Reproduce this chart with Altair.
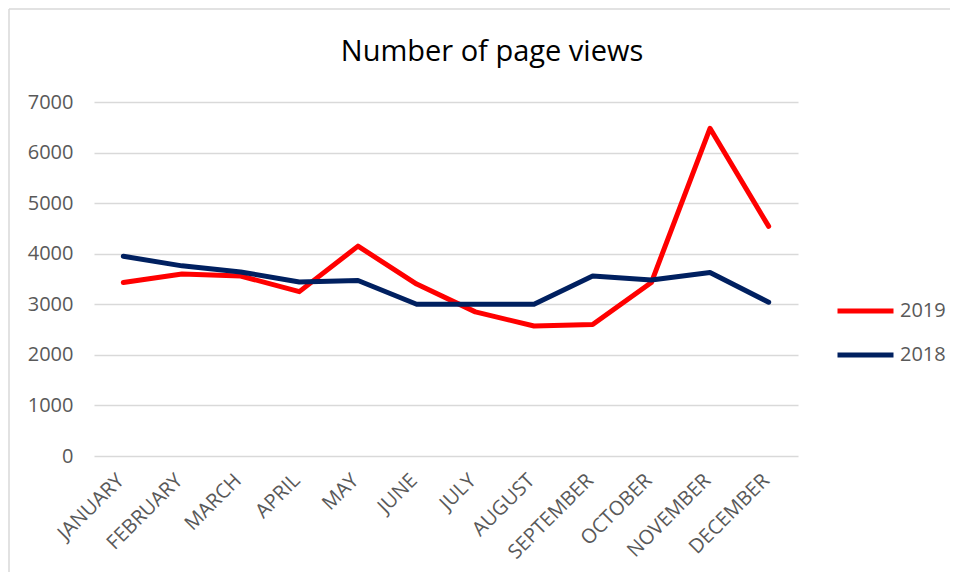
import altair as alt
import pandas as pd

months = ["JANUARY", "FEBRUARY", "MARCH", "APRIL", "MAY", "JUNE", "JULY",
          "AUGUST", "SEPTEMBER", "OCTOBER", "NOVEMBER", "DECEMBER"]
views_2019 = [3430, 3600, 3560, 3250, 4150, 3400, 2850, 2570, 2600, 3430, 6480, 4540]
views_2018 = [3950, 3760, 3640, 3440, 3470, 3000, 3000, 3000, 3560, 3480, 3630, 3040]
series = ["2019", "2018"]
colors = ["#FF0000", "#002060"]
y_ticks = [0, 1000, 2000, 3000, 4000, 5000, 6000, 7000]

rows = []
for m, v in zip(months, views_2019):
    rows.append({"month": m, "year": "2019", "views": v})
for m, v in zip(months, views_2018):
    rows.append({"month": m, "year": "2018", "views": v})
df = pd.DataFrame(rows)

FONT = "Open Sans"
W, H = 704, 354
PL, PT = 86, 94          # plot origin at page (94, 102) incl. 8px margin
OX, OY = PL + 8, PT + 8  # plot origin in page pixels

lines = alt.Chart(df).mark_line(strokeWidth=5, strokeCap="round", strokeJoin="round").encode(
    x=alt.X("month:N", sort=months, title=None,
            scale=alt.Scale(type="point", padding=0.5),
            axis=alt.Axis(labelAngle=-45, labelAlign="right", labelBaseline="middle",
                          labelPadding=21, labelOffset=-3, ticks=False, tickSize=0,
                          domain=False, grid=False, labelFont=FONT, labelFontSize=20,
                          labelColor="#595959")),
    y=alt.Y("views:Q", title=None,
            scale=alt.Scale(domain=[0, 7000], nice=False),
            axis=alt.Axis(values=y_ticks, format="d", ticks=False, tickSize=0, domain=False,
                          grid=True, gridColor="#D9D9D9", gridWidth=1.5,
                          labelPadding=21, labelFont=FONT, labelFontSize=20,
                          labelColor="#595959", labelBaseline="middle")),
    color=alt.Color("year:N", sort=series,
                    scale=alt.Scale(domain=series, range=colors),
                    legend=alt.Legend(title=None, orient="none", legendX=741, legendY=197,
                                      symbolType="stroke", symbolSize=3136,
                                      symbolStrokeWidth=5, labelFont=FONT,
                                      labelFontSize=20, labelColor="#595959",
                                      labelOffset=4, clipHeight=24, rowPadding=20,
                                      padding=0)),
    order=alt.Order("year:N", sort="descending"),
)

border_df = pd.DataFrame({"b": [0]})
left_border = alt.Chart(border_df).mark_rule(color="#D9D9D9", strokeWidth=1.5).encode(
    x=alt.value(9 - OX), y=alt.value(9 - OY), y2=alt.value(H + 300))
top_border = alt.Chart(border_df).mark_rule(color="#D9D9D9", strokeWidth=1.5).encode(
    x=alt.value(9 - OX), x2=alt.value(W + 400), y=alt.value(9 - OY))

chart = alt.layer(left_border, top_border, lines).properties(
    width=W, height=H, background="white",
    title=alt.TitleParams(text="Number  of page views", font=FONT, fontSize=29,
                          fontWeight="normal", color="black", anchor="middle",
                          frame="group", dx=46, offset=0, baseline="alphabetic", dy=82),
    autosize=alt.AutoSizeParams(type="none"),
    padding={"left": PL, "top": PT, "right": 942 - PL - W, "bottom": 564 - PT - H},
).configure_view(stroke=None)

chart.save("out.html", embed_options={"renderer": "svg", "actions": False})
